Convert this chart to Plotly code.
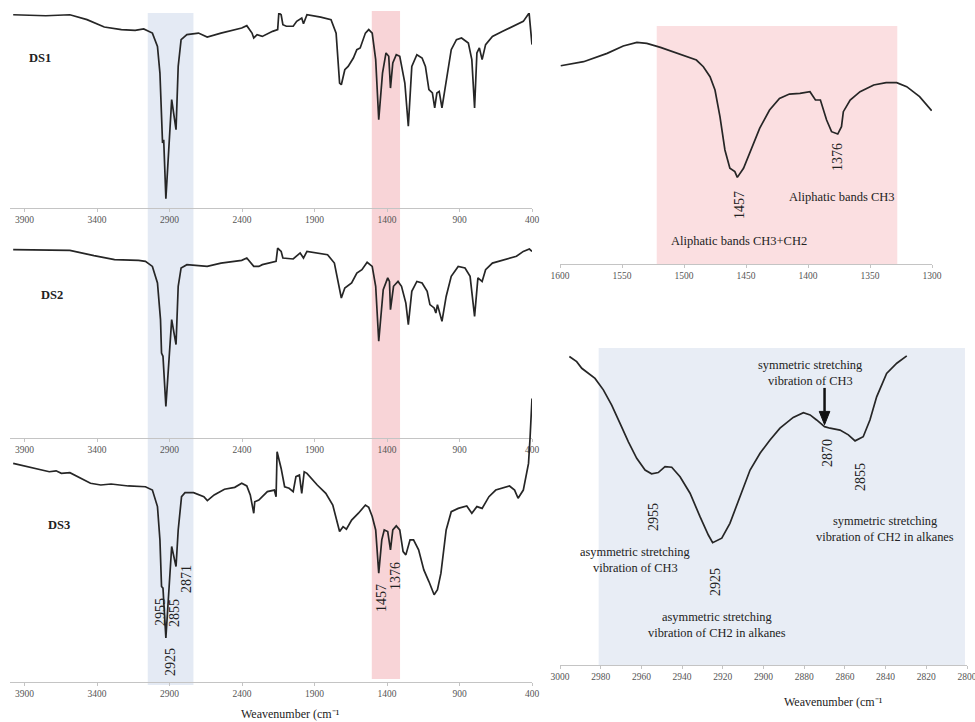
import plotly.graph_objects as go

# ---------------- FTIR spectra (wavenumber, cm-1 / transmittance, a.u.) ----------------
ds1_wn = [3978, 3753, 3587, 3469, 3350, 3232, 3137, 3078, 3018, 2983, 2966, 2955, 2948, 2940,
          2925, 2885, 2855, 2840, 2820, 2780, 2700, 2640, 2545, 2402, 2367, 2331, 2319, 2296,
          2260, 2189, 2154, 2146, 2130, 2118, 2094, 2047, 2023, 1988, 1976, 1952, 1857, 1786,
          1751, 1727, 1715, 1691, 1668, 1632, 1608, 1585, 1549, 1526, 1502, 1478, 1457, 1431,
          1407, 1388, 1376, 1360, 1336, 1312, 1277, 1253, 1229, 1194, 1158, 1135, 1111, 1087,
          1071, 1056, 1040, 1021, 992, 957, 921, 886, 839, 815, 796, 780, 763, 744, 720, 673,
          602, 531, 460, 420, 400]
ds1_t = [99.1, 98.6, 99.1, 96.6, 92.8, 91.5, 91.1, 91.8, 89.7, 82.9, 69.2, 38.5, 33.3, 35.0,
         4.8, 55.6, 40.2, 72.6, 86.3, 88.9, 89.7, 87.7, 89.7, 92.3, 93.5, 89.7, 87.2, 88.9,
         88.0, 90.6, 91.5, 100.0, 99.1, 94.0, 93.2, 93.2, 95.7, 97.4, 94.5, 99.1, 97.9, 96.6,
         89.7, 64.1, 63.2, 70.9, 72.6, 76.9, 81.2, 82.1, 89.7, 91.5, 89.7, 76.1, 45.3, 69.2,
         79.5, 77.8, 61.5, 74.4, 78.6, 77.8, 64.1, 41.9, 72.6, 78.6, 76.9, 72.6, 60.7, 59.0,
         51.3, 59.0, 59.8, 51.3, 64.1, 81.2, 86.3, 87.2, 84.6, 76.1, 51.3, 79.5, 82.1, 76.1,
         83.8, 88.0, 90.6, 93.2, 95.7, 100.0, 83.8]

ds2_wn = [3978, 3753, 3587, 3421, 3279, 3113, 3066, 3018, 2983, 2962, 2955, 2945, 2925, 2885,
          2855, 2840, 2820, 2780, 2640, 2545, 2402, 2367, 2319, 2284, 2260, 2165, 2154, 2130,
          2118, 2047, 1999, 1976, 1952, 1810, 1763, 1715, 1691, 1644, 1608, 1573, 1537, 1502,
          1478, 1457, 1426, 1395, 1383, 1376, 1355, 1324, 1300, 1270, 1253, 1229, 1194, 1158,
          1123, 1104, 1075, 1063, 1052, 1021, 992, 957, 909, 862, 827, 796, 773, 744, 720, 673,
          579, 507, 460, 418, 400]
ds2_t = [96.6, 96.2, 96.2, 93.5, 91.5, 91.1, 90.6, 88.0, 79.5, 60.7, 43.6, 41.9, 16.2, 60.7,
         47.9, 77.8, 87.2, 88.9, 88.0, 89.7, 91.1, 92.3, 88.0, 88.0, 88.9, 90.6, 97.4, 95.7,
         92.3, 91.8, 94.9, 92.3, 95.7, 94.0, 89.7, 71.8, 76.9, 79.5, 84.6, 86.3, 90.1, 88.0,
         77.8, 49.6, 76.1, 82.1, 80.3, 65.8, 77.8, 80.3, 77.8, 69.2, 58.1, 75.2, 80.3, 79.5,
         75.2, 68.4, 66.7, 64.1, 68.4, 59.8, 72.6, 82.9, 88.0, 87.2, 82.9, 62.4, 82.1, 80.3,
         86.3, 89.7, 91.5, 93.2, 95.7, 96.9, 95.7]

ds3_wn = [3978, 3824, 3729, 3682, 3646, 3587, 3516, 3445, 3374, 3303, 3184, 3066, 3018, 2983,
          2966, 2955, 2945, 2925, 2885, 2870, 2855, 2840, 2817, 2793, 2734, 2663, 2639, 2592,
          2521, 2450, 2402, 2367, 2343, 2319, 2312, 2284, 2260, 2225, 2177, 2165, 2158, 2142,
          2130, 2106, 2075, 2047, 2028, 2004, 1988, 1971, 1952, 1881, 1822, 1774, 1751, 1727,
          1703, 1680, 1644, 1597, 1549, 1526, 1502, 1478, 1457, 1436, 1419, 1395, 1376, 1360,
          1336, 1312, 1289, 1270, 1241, 1217, 1182, 1146, 1111, 1075, 1052, 1028, 992, 957,
          909, 850, 815, 780, 744, 697, 650, 602, 555, 520, 496, 460, 424, 413, 400]
ds3_t = [112.3, 109.7, 108.0, 108.5, 107.2, 107.5, 104.6, 102.1, 101.2, 101.7, 100.7, 100.3,
         98.6, 90.1, 73.0, 49.1, 48.2, 22.6, 69.6, 64.4, 59.3, 78.1, 95.2, 97.3, 97.3, 95.2,
         93.2, 96.1, 99.0, 100.0, 102.1, 100.7, 96.1, 86.7, 92.6, 93.5, 95.2, 97.8, 98.6, 95.2,
         118.3, 113.2, 109.7, 100.3, 99.5, 97.8, 105.5, 106.3, 96.9, 108.0, 107.2, 101.2, 96.9,
         90.9, 84.1, 77.3, 79.8, 78.5, 83.2, 86.7, 90.9, 89.7, 85.0, 78.1, 55.9, 73.0, 78.1,
         77.3, 67.9, 78.1, 80.2, 78.1, 67.0, 65.3, 73.0, 73.0, 67.9, 57.6, 51.6, 44.8, 47.4,
         55.9, 78.1, 87.5, 89.2, 90.4, 86.7, 90.1, 89.2, 95.2, 98.6, 99.5, 100.7, 98.6, 94.4,
         98.6, 112.3, 126.0, 145.6]

# Enlarged region 1600-1300 cm-1 (aliphatic CH3/CH2 bending)
bend_wn = [1599.4, 1581, 1562, 1549, 1538, 1530, 1519, 1509, 1498, 1490, 1484.4, 1479, 1475,
           1471, 1467, 1463, 1459, 1457, 1452, 1447, 1439, 1431, 1423, 1415, 1406.5, 1398.4,
           1394, 1390, 1385, 1381, 1376, 1373, 1371.5, 1366, 1358, 1347, 1337, 1328.5, 1320.4,
           1310, 1300.3]
bend_t = [83.3, 85.0, 88.5, 91.6, 93.1, 92.7, 91.0, 89.2, 87.4, 85.7, 82.9, 78.7, 73.1, 61.9,
          47.9, 40.2, 38.8, 36.4, 40.2, 46.5, 57.0, 64.7, 69.6, 71.4, 71.7, 72.4, 68.9, 68.9,
          60.5, 55.6, 54.6, 57.7, 64.0, 68.9, 72.4, 75.2, 76.2, 76.2, 74.5, 70.3, 64.4]

# Enlarged region 3000-2800 cm-1 (C-H stretching)
str_wn = [2995.4, 2991.8, 2989.3, 2986.9, 2982.8, 2978.7, 2974.6, 2970.5, 2966.4, 2962.3,
          2958.2, 2955, 2951.7, 2948.4, 2945.1, 2941, 2936.1, 2931.2, 2927.1, 2925, 2920.5,
          2916.5, 2911.5, 2906.6, 2901.7, 2896.8, 2891.9, 2885.4, 2880.4, 2877.1, 2873.9, 2870,
          2867.3, 2862.4, 2858.3, 2855, 2851, 2847.7, 2844.4, 2839.5, 2834.5, 2829.6]
str_t = [97.3, 95.7, 93.6, 92.5, 90.4, 86.8, 82.0, 76.2, 70.4, 65.2, 61.5, 60.3, 60.7, 62.6,
         62.4, 59.4, 54.2, 46.8, 41.0, 38.6, 40.0, 44.7, 53.1, 61.5, 66.8, 71.0, 74.7, 78.1,
         79.6, 78.9, 77.3, 75.2, 74.7, 74.1, 72.6, 70.7, 72.0, 77.3, 84.6, 92.0, 95.2, 97.5]

full_ticks = [3900, 3400, 2900, 2400, 1900, 1400, 900, 400]
bend_ticks = [1600, 1550, 1500, 1450, 1400, 1350, 1300]
str_ticks = [3000, 2980, 2960, 2940, 2920, 2900, 2880, 2860, 2840, 2820, 2800]

W, H = 975, 722
SERIF = "Liberation Serif, Times New Roman, serif"
LINE = dict(color="#262626", width=1.7)


def px(x):
    return x / W


def py(y):
    return 1 - y / H


fig = go.Figure()
fig.add_trace(go.Scatter(x=ds1_wn, y=ds1_t, mode="lines", line=LINE, xaxis="x", yaxis="y"))
fig.add_trace(go.Scatter(x=ds2_wn, y=ds2_t, mode="lines", line=LINE, xaxis="x2", yaxis="y2"))
fig.add_trace(go.Scatter(x=ds3_wn, y=ds3_t, mode="lines", line=LINE, xaxis="x3", yaxis="y3"))
fig.add_trace(go.Scatter(x=bend_wn, y=bend_t, mode="lines", line=LINE, xaxis="x4", yaxis="y4"))
fig.add_trace(go.Scatter(x=str_wn, y=str_t, mode="lines", line=LINE, xaxis="x5", yaxis="y5"))

tickfont = dict(family=SERIF, size=9.5, color="#555555")


def xax(domain, rng, ticks, anchor):
    return dict(domain=domain, range=rng, autorange=False, tickvals=ticks,
                ticktext=[str(t) for t in ticks], showgrid=False, zeroline=False,
                showline=True, linecolor="#c4c4c4", linewidth=1, ticks="outside",
                ticklen=3, tickcolor="#c4c4c4", tickfont=tickfont, anchor=anchor,
                automargin=False, ticklabeloverflow="allow", fixedrange=True)


def yax(domain, rng):
    return dict(domain=domain, range=rng, autorange=False, visible=False,
                showgrid=False, zeroline=False, automargin=False, fixedrange=True)


left_dom = [px(10), px(532)]
fig.update_layout(
    xaxis=xax(left_dom, [4000, 400], full_ticks, "y"),
    xaxis2=xax(left_dom, [4000, 400], full_ticks, "y2"),
    xaxis3=xax(left_dom, [4000, 400], full_ticks, "y3"),
    xaxis4=xax([px(560), px(932)], [1600, 1300], bend_ticks, "y4"),
    xaxis5=xax([px(560), px(967)], [3000, 2800], str_ticks, "y5"),
    yaxis=yax([py(208), py(13)], [0, 100]),
    yaxis2=yax([py(438), py(243)], [0, 100]),
    yaxis3=yax([py(682), py(390)], [0, 150]),
    yaxis4=yax([py(264), py(26)], [0, 100]),
    yaxis5=yax([py(665), py(348)], [0, 100]),
)

# Highlighted bands
shapes = [
    dict(type="rect", xref="x", yref="paper", x0=3050, x1=2735, y0=py(685), y1=py(13),
         fillcolor="#e4eaf4", line_width=0, layer="below"),
    dict(type="rect", xref="x", yref="paper", x0=1505, x1=1310, y0=py(679), y1=py(11),
         fillcolor="#f8d4d7", line_width=0, layer="below"),
    dict(type="rect", xref="x4", yref="y4", x0=1522, x1=1328, y0=0, y1=100,
         fillcolor="#fbdfe1", line_width=0, layer="below"),
    dict(type="rect", xref="x5", yref="y5", x0=2981, x1=2801, y0=0, y1=100,
         fillcolor="#e8edf5", line_width=0, layer="below"),
]

# Arrow pointing to the CH3 symmetric stretching shoulder at 2870 cm-1
arrow_x, arrow_tip, arrow_base, arrow_top = 2870, 75.8, 80.0, 87.4
shapes.append(dict(type="line", xref="x5", yref="y5", x0=arrow_x, x1=arrow_x,
                   y0=arrow_top, y1=arrow_base, line=dict(color="#111111", width=2.5)))
shapes.append(dict(type="path", xref="x5", yref="y5",
                   path=f"M {arrow_x + 2.6} {arrow_base} L {arrow_x - 2.6} {arrow_base} "
                        f"L {arrow_x} {arrow_tip} Z",
                   fillcolor="#111111", line=dict(color="#111111", width=1)))

TXT = "#222222"
ann = []


def label(text, x, y, size=12, angle=0, bold=False):
    if bold:
        text = "<b>" + text + "</b>"
    ann.append(dict(text=text, x=px(x), y=py(y), xref="paper", yref="paper",
                    showarrow=False, textangle=angle, xanchor="center", yanchor="middle",
                    font=dict(family=SERIF, size=size, color=TXT)))


def two_lines(first, second, x, y, size=12.4, gap=16.5):
    label(first, x, y - gap / 2, size)
    label(second, x, y + gap / 2, size)


AXIS_TITLE = "Weavenumber (cm\u207b\u00b9"

label("DS1", 40, 58, 12.5, bold=True)
label("DS2", 52, 295, 12.5, bold=True)
label("DS3", 59, 525, 12.5, bold=True)
for t, x, y in [("2955", 160, 612), ("2855", 174, 613), ("2871", 186, 579),
                ("2925", 170, 662), ("1457", 381, 598), ("1376", 395, 576)]:
    label(t, x, y, 14, angle=-90)
label(AXIS_TITLE, 290, 714, 12)

label("1457", 739, 205, 14, angle=-90)
label("1376", 837, 157, 14, angle=-90)
label("Aliphatic bands CH3", 842, 197, 12.5)
label("Aliphatic bands CH3+CH2", 739, 241, 12.5)

label("2955", 653, 517, 14, angle=-90)
two_lines("asymmetric stretching", "vibration of CH3", 635, 560)
label("2925", 715, 582, 14, angle=-90)
two_lines("asymmetric stretching", "vibration of CH2 in alkanes", 717, 625)
two_lines("symmetric stretching", "vibration of CH3", 810, 373)
label("2870", 827, 453, 14, angle=-90)
label("2855", 860, 477, 14, angle=-90)
two_lines("symmetric stretching", "vibration of CH2 in alkanes", 885, 529)
label(AXIS_TITLE, 833, 702, 12)

fig.update_layout(
    width=W, height=H, margin=dict(l=0, r=0, t=0, b=0),
    paper_bgcolor="white", plot_bgcolor="rgba(0,0,0,0)",
    showlegend=False, shapes=shapes, annotations=ann,
)

fig.write_html("out.html")
